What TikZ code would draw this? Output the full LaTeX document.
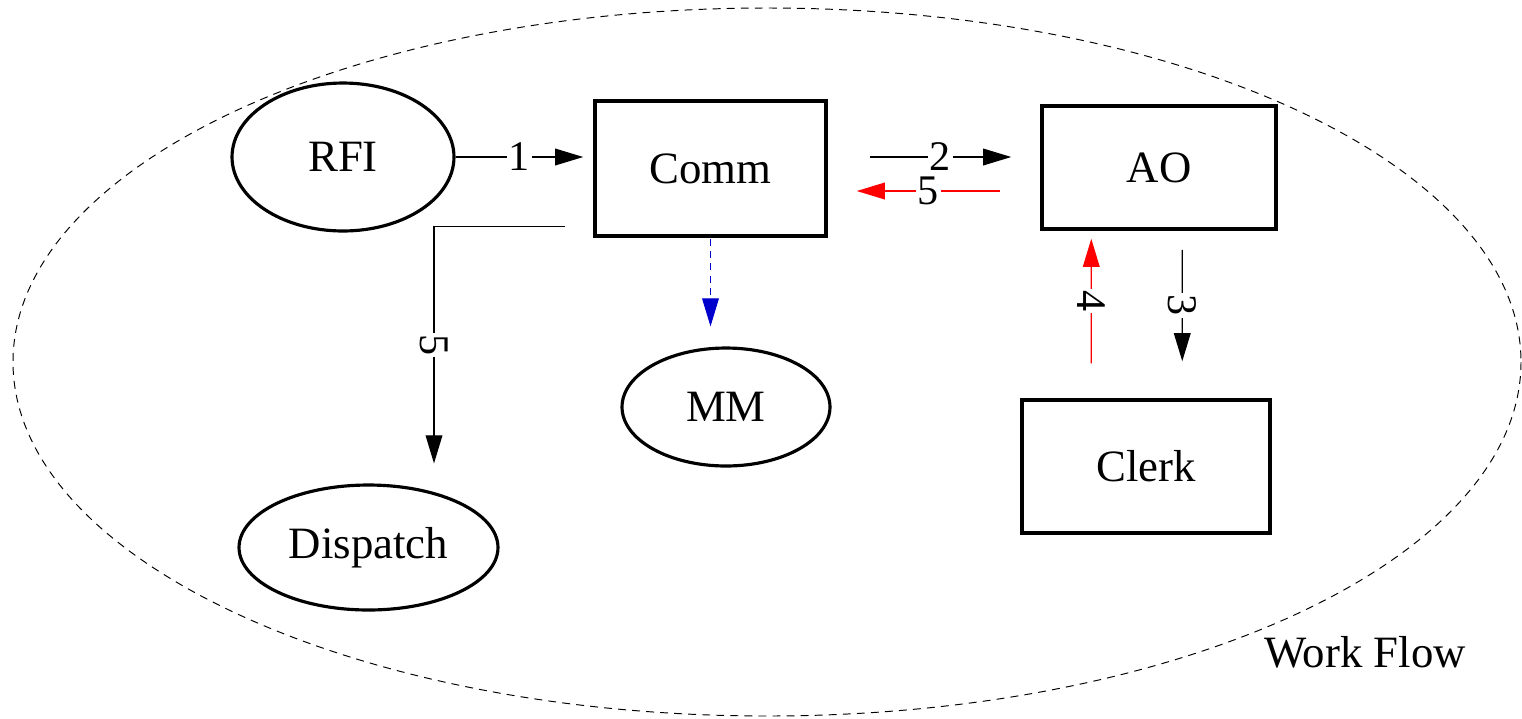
\documentclass[tikz,border=0pt]{standalone}
\usepackage{fontspec}
\setmainfont{Liberation Serif}
\usetikzlibrary{shapes.geometric,arrows.meta,calc}

\tikzset{
  x=0.02cm, y=-0.02cm,
  nodefont/.style={font=\fontsize{25.5}{30}\selectfont},
  boxnode/.style={draw, line width=2pt, rectangle, inner sep=0pt, nodefont},
  ovalnode/.style={draw, line width=1.8pt, ellipse, inner sep=0pt, nodefont},
  flow/.style={line width=0.75pt, -{Triangle[length=16pt,width=9.5pt]}},
  backflow/.style={flow, red},
  memo/.style={flow, dash pattern=on 4pt off 3pt, color={rgb,255:red,0;green,0;blue,205}},
  lbl/.style={fill=white, inner sep=1pt, text=black, font=\fontsize{24}{28}\selectfont},
  vlbl/.style={lbl, rotate=-90},
  boundary/.style={draw, dash pattern=on 4.5pt off 3.5pt, line width=0.55pt},
}

\begin{document}
\begin{tikzpicture}
\useasboundingbox (0,0) rectangle (1522,718);

% system boundary
\draw[boundary] (767,362) ellipse [x radius=754, y radius=354];
\node[nodefont] (wf) at (1365,652) {Work Flow};

% actors and offices
\node[ovalnode, minimum width=4.44cm, minimum height=2.96cm] (RFI) at (343,157) {RFI};
\node[boxnode, minimum width=4.62cm, minimum height=2.7cm] (Comm) at (710.5,168.5) {Comm};
\node[boxnode, minimum width=4.68cm, minimum height=2.46cm] (AO) at (1159,167.5) {AO};
\node[ovalnode, minimum width=4.16cm, minimum height=2.36cm] (MM) at (726,407) {MM};
\node[ovalnode, minimum width=5.18cm, minimum height=2.5cm] (Dispatch) at (368.5,547.5) {Dispatch};
\node[boxnode, minimum width=4.96cm, minimum height=2.66cm] (Clerk) at (1146,466.5) {Clerk};

% numbered steps
\draw[flow] (RFI.east) -- ([shift={(-10,-11.5)}]Comm.west) node[lbl, midway] {1};
\draw[flow] ([shift={(42,-11.5)}]Comm.east) -- ([shift={(-29,-10.5)}]AO.west) node[lbl, midway] {2};
\draw[backflow] ([shift={(-40,23.5)}]AO.west) -- ([shift={(29,22.5)}]Comm.east) node[lbl, midway] {5};
\draw[flow] ([shift={(142,19)}]AO.south west) -- ([shift={(162,-37)}]Clerk.north west) node[vlbl, midway] {3};
\draw[backflow] ([shift={(71,-35)}]Clerk.north west) -- ([shift={(51,8)}]AO.south west) node[vlbl, midway] {4};
\draw[flow] ([shift={(-28,-11)}]Comm.south west) -| ([shift={(65.5,-20)}]Dispatch.north) node[vlbl, pos=0.75] {5};

% copy to MM
\draw[memo] ([shift={(0,1)}]Comm.south) -- ($(Comm.south |- MM.north)+(0,-20)$);
\end{tikzpicture}
\end{document}
